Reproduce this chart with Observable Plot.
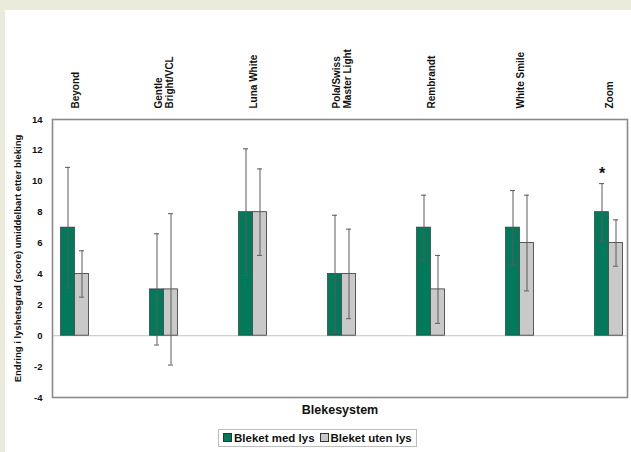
<!DOCTYPE html>
<html>
<head>
<meta charset="utf-8">
<script src="https://cdn.jsdelivr.net/npm/d3@7"></script>
<script src="https://cdn.jsdelivr.net/npm/@observablehq/plot@0.6"></script>
<style>
  html, body { margin: 0; padding: 0; background: #ebebdb; }
  #panel {
    position: absolute; left: 5px; top: 10px; width: 626px; height: 442px;
    background: #ffffff; overflow: hidden;
    font-family: "Liberation Sans", Arial, sans-serif; font-weight: bold;
  }
  #legend {
    position: absolute; left: 213px; top: 419px; height: 16px;
    border: 1px solid #bdbdbd; padding: 0 4px;
    display: flex; align-items: center; gap: 5px;
    font-size: 11.5px; color: #111; white-space: nowrap;
  }
  .sw { display: inline-block; width: 7px; height: 7px; border: 1px solid #333; margin-right: 2px; }
</style>
</head>
<body>
<div id="panel"></div>
<script>
// Blekesystemer og gjennomsnittlig endring i lyshetsgrad (score) med standardavvik
const categories = ["Beyond", "Gentle\nBright/VCL", "Luna White", "Pola/Swiss\nMaster Light", "Rembrandt", "White Smile", "Zoom"];
const medLys = [7, 3, 8, 4, 7, 7, 8];
const medLysSd = [3.9, 3.6, 4.1, 3.8, 2.1, 2.4, 1.85];
const utenLys = [4, 3, 8, 4, 3, 6, 6];
const utenLysSd = [1.5, 4.9, 2.8, 2.9, 2.2, 3.1, 1.5];
const yTicks = [-4, -2, 0, 2, 4, 6, 8, 10, 12, 14];
const significant = ["Zoom"];
const seriesNames = ["Bleket med lys", "Bleket uten lys"];
const colors = ["#007a5a", "#c9c9c9"];

const rowsMed = categories.map((c, i) => ({cat: c, value: medLys[i], sd: medLysSd[i]}));
const rowsUten = categories.map((c, i) => ({cat: c, value: utenLys[i], sd: utenLysSd[i]}));
const starRows = rowsMed.filter(d => significant.includes(d.cat));

const step = 89;
const first = 69.3, last = first + step * (categories.length - 1);
const half = step / 2, barW = 14;

function errorMarks(rows, dx) {
  return [
    Plot.ruleX(rows, {x: "cat", y1: d => d.value - d.sd, y2: d => d.value + d.sd, dx, stroke: "#5a5a5a", strokeWidth: 1}),
    Plot.tickY(rows, {x: "cat", y: d => d.value + d.sd, dx, insetLeft: half - 2.5, insetRight: half - 2.5, stroke: "#5a5a5a"}),
    Plot.tickY(rows, {x: "cat", y: d => d.value - d.sd, dx, insetLeft: half - 2.5, insetRight: half - 2.5, stroke: "#5a5a5a"})
  ];
}

const chart = Plot.plot({
  width: 626,
  height: 412,
  marginTop: 109,
  marginLeft: 47,
  marginRight: 4,
  marginBottom: 25,
  style: {fontFamily: "'Liberation Sans', Arial, sans-serif", fontWeight: "bold", background: "white", color: "#111", overflow: "visible"},
  x: {domain: categories, range: [first - half, last + half], padding: 0, axis: null},
  y: {domain: [-4, 14], ticks: yTicks},
  marks: [
    Plot.ruleY([0], {stroke: "#c4c4c4", strokeWidth: 1}),
    Plot.barY(rowsMed, {x: "cat", y: "value", fill: colors[0], stroke: "#2e3b36", strokeWidth: 0.7,
      insetLeft: half - barW, insetRight: half}),
    Plot.barY(rowsUten, {x: "cat", y: "value", fill: colors[1], stroke: "#4a4a4a", strokeWidth: 0.9,
      insetLeft: half, insetRight: half - barW}),
    ...errorMarks(rowsMed, -barW / 2),
    ...errorMarks(rowsUten, barW / 2),
    Plot.text(starRows, {x: "cat", y: d => d.value + d.sd, dx: -barW / 2, dy: -10, text: () => "*", fontSize: 16, fill: "#111"}),
    Plot.frame({stroke: "#8a8a8a", strokeWidth: 1.6}),
    Plot.axisY({tickSize: 0, tickPadding: 10, fontSize: 8.5, tickFormat: d => d,
      label: "Endring i lyshetsgrad (score) umiddelbart etter bleking",
      labelAnchor: "center", labelArrow: "none", labelOffset: 38, fontSize: 9.5}),
    // kategorinavn loddrett over rammen
    Plot.text(categories, {x: d => d, frameAnchor: "top", dy: -11, rotate: -90, textAnchor: "start",
      lineAnchor: "middle", lineHeight: 1.1, fontSize: 10, fill: "#111"}),
    Plot.text(["Blekesystem"], {frameAnchor: "bottom", dy: 16, text: d => d, fontSize: 12.5, fill: "#111"})
  ]
});

const panel = document.getElementById("panel");
panel.appendChild(chart);

const legend = document.createElement("div");
legend.id = "legend";
seriesNames.forEach((name, i) => {
  const item = document.createElement("span");
  const sw = document.createElement("span");
  sw.className = "sw";
  sw.style.background = colors[i];
  item.appendChild(sw);
  item.appendChild(document.createTextNode(name));
  legend.appendChild(item);
});
panel.appendChild(legend);
</script>
</body>
</html>
